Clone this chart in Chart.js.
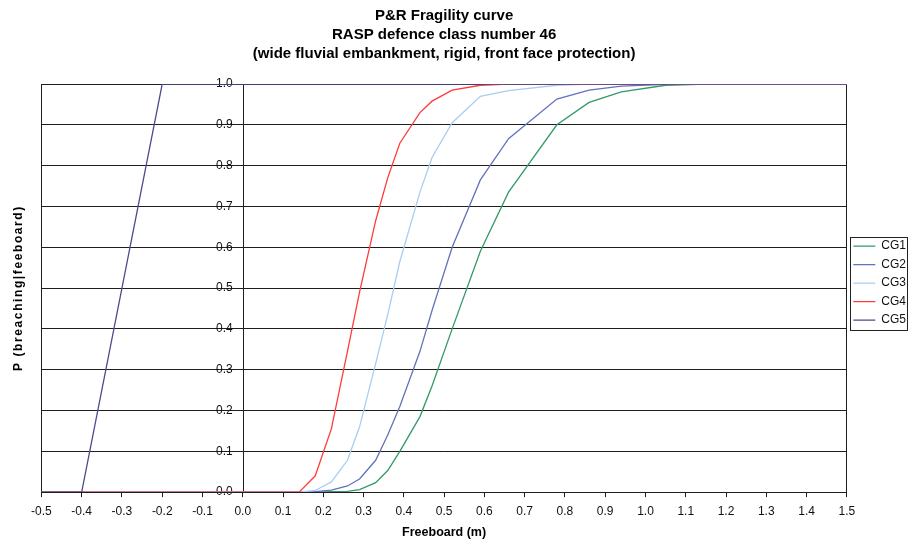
<!DOCTYPE html>
<html>
<head>
<meta charset="utf-8">
<script src="https://cdn.jsdelivr.net/npm/chart.js@4/dist/chart.umd.min.js"></script>
<style>
  html, body { margin: 0; padding: 0; background: #fff; }
  #wrap { width: 909px; height: 543px; position: relative; }
</style>
</head>
<body>
<div id="wrap"><canvas id="c" width="909" height="543"></canvas></div>
<script>
// ---- data ----
const titleLines = ["P&R Fragility curve", "RASP defence class number 46", "(wide fluvial embankment, rigid, front face protection)"];
const xTitle = "Freeboard (m)";
const yTitle = "P (breaching|feeboard)";
const seriesNames = ["CG1", "CG2", "CG3", "CG4", "CG5"];
const freeboard = [-0.5, -0.4, -0.3, -0.2, 0.0, 0.1, 0.14, 0.18, 0.22, 0.26, 0.29, 0.33, 0.36, 0.39, 0.44, 0.47, 0.52, 0.59, 0.66, 0.78, 0.86, 0.94, 1.05, 1.15, 1.3, 1.5];
const cg1 = [0, 0, 0, 0, 0, 0, 0, 0, 0.001, 0.002, 0.006, 0.023, 0.053, 0.10, 0.185, 0.26, 0.40, 0.59, 0.735, 0.90, 0.955, 0.981, 0.997, 1, 1, 1];
const cg2 = [0, 0, 0, 0, 0, 0, 0, 0.001, 0.005, 0.015, 0.032, 0.078, 0.14, 0.21, 0.345, 0.445, 0.60, 0.765, 0.866, 0.963, 0.985, 0.995, 0.999, 1, 1, 1];
const cg3 = [0, 0, 0, 0, 0, 0, 0, 0.004, 0.025, 0.078, 0.16, 0.315, 0.435, 0.565, 0.735, 0.82, 0.905, 0.97, 0.984, 0.997, 1, 1, 1, 1, 1, 1];
const cg4 = [0, 0, 0, 0, 0, 0, 0, 0.04, 0.155, 0.345, 0.49, 0.665, 0.77, 0.855, 0.93, 0.958, 0.985, 0.997, 1, 1, 1, 1, 1, 1, 1, 1];
const cg5 = [0, 0, 0.5, 1, 1, 1, 1, 1, 1, 1, 1, 1, 1, 1, 1, 1, 1, 1, 1, 1, 1, 1, 1, 1, 1, 1];
const xTickMin = -0.5, xTickMax = 1.5, xTickStep = 0.1;
const yTickMin = 0, yTickMax = 1, yTickStep = 0.1;

const seriesValues = [cg1, cg2, cg3, cg4, cg5];
const seriesColors = ["#339966", "#6272bb", "#a9cdf0", "#ff3b3b", "#4b4b8e"];
const seriesOrder = [4, 3, 2, 1, 0];

const FONT = "'Liberation Sans', Arial, sans-serif";
const GRID = "#1e1e1e";

const datasets = seriesNames.map((name, k) => ({
  label: name,
  data: freeboard.map((x, i) => ({ x: x, y: seriesValues[k][i] })),
  borderColor: seriesColors[k],
  backgroundColor: seriesColors[k],
  borderWidth: 1.3,
  pointRadius: 0,
  tension: 0,
  order: seriesOrder[k],
  yAxisID: 'y'
}));

const framePlugin = {
  id: 'frame',
  afterLayout(chart) {
    // lift the legend a little, as in the reference
    const lg = chart.legend;
    if (lg) { lg.top -= 5; lg.bottom -= 5; }
  },
  beforeDraw(chart) {
    // widen the letter spacing of the y axis title only
    const s = chart.scales.yT;
    if (s && !s._patched) {
      const orig = s.drawTitle.bind(s);
      s.drawTitle = function () {
        const ctx = chart.ctx;
        ctx.save();
        ctx.letterSpacing = '1.6px';
        orig();
        ctx.restore();
      };
      s._patched = true;
    }
  },
  beforeDatasetsDraw(chart) {
    const a = chart.chartArea, ctx = chart.ctx;
    ctx.save();
    ctx.strokeStyle = GRID;
    ctx.lineWidth = 1;
    ctx.strokeRect(Math.round(a.left) + 0.5, Math.round(a.top) + 0.5, Math.round(a.right - a.left), Math.round(a.bottom - a.top));
    const x0 = Math.round(chart.scales.x.getPixelForValue(0)) + 0.5;
    ctx.beginPath();
    ctx.moveTo(x0, a.top);
    ctx.lineTo(x0, a.bottom);
    ctx.stroke();
    ctx.restore();
  },
  afterDraw(chart) {
    const lg = chart.legend;
    if (!lg || !lg.legendHitBoxes || !lg.legendHitBoxes.length) return;
    const hb = lg.legendHitBoxes;
    const left = Math.min(...hb.map(h => h.left)) - 3;
    const top = hb[0].top + hb[0].height / 2 - 9;
    const last = hb[hb.length - 1];
    const bottom = last.top + last.height / 2 + 10;
    const ctx = chart.ctx;
    ctx.save();
    ctx.strokeStyle = "#222";
    ctx.lineWidth = 1;
    ctx.strokeRect(Math.round(left) + 0.5, Math.round(top) + 0.5, Math.round(chart.width - 2 - left), Math.round(bottom - top));
    ctx.restore();
  }
};

new Chart(document.getElementById('c'), {
  type: 'line',
  data: { datasets: datasets },
  plugins: [framePlugin],
  options: {
    responsive: false,
    animation: false,
    devicePixelRatio: 1,
    layout: { padding: { left: 0, right: -7, top: 0, bottom: 0 } },
    plugins: {
      title: {
        display: true,
        text: titleLines,
        fullSize: false,
        color: '#000',
        font: { family: FONT, size: 15, weight: 'bold', lineHeight: 1.267 },
        padding: { top: 6.5, bottom: 20.5 }
      },
      legend: {
        display: true,
        position: 'right',
        fullSize: false,
        align: 'center',
        labels: {
          usePointStyle: true,
          pointStyle: 'line',
          pointStyleWidth: 22,
          boxHeight: 12,
          padding: 6.5,
          color: '#111',
          font: { family: FONT, size: 12 },
          sort: (a, b) => a.datasetIndex - b.datasetIndex
        }
      },
      tooltip: { enabled: false }
    },
    scales: {
      x: {
        type: 'linear',
        position: 'bottom',
        min: xTickMin,
        max: xTickMax,
        grid: { display: true, drawOnChartArea: false, drawTicks: true, tickLength: 5, color: GRID },
        border: { display: true, color: GRID },
        ticks: {
          stepSize: xTickStep,
          autoSkip: false,
          maxRotation: 0,
          padding: 7,
          color: '#111',
          font: { family: FONT, size: 12 },
          callback: v => Number(v).toFixed(1)
        },
        title: {
          display: true,
          text: xTitle,
          color: '#000',
          font: { family: FONT, size: 12.5, weight: 'bold' },
          padding: { top: 0, bottom: 2.5 }
        }
      },
      y: {
        type: 'linear',
        axis: 'y',
        position: { x: -0.025 },
        min: yTickMin,
        max: yTickMax,
        grid: { display: true, drawTicks: false, color: GRID, lineWidth: 1 },
        border: { display: false },
        ticks: {
          stepSize: yTickStep,
          padding: 0,
          color: '#111',
          font: { family: FONT, size: 12 },
          callback: v => Number(v).toFixed(1)
        }
      },
      yT: {
        type: 'linear',
        axis: 'y',
        position: 'left',
        min: 0,
        max: 1,
        grid: { display: false, drawTicks: false },
        border: { display: false },
        ticks: { display: false },
        title: {
          display: true,
          text: yTitle,
          color: '#000',
          font: { family: FONT, size: 12, weight: 'bold' },
          padding: { top: 11, bottom: 16 }
        }
      }
    }
  }
});
</script>
</body>
</html>
